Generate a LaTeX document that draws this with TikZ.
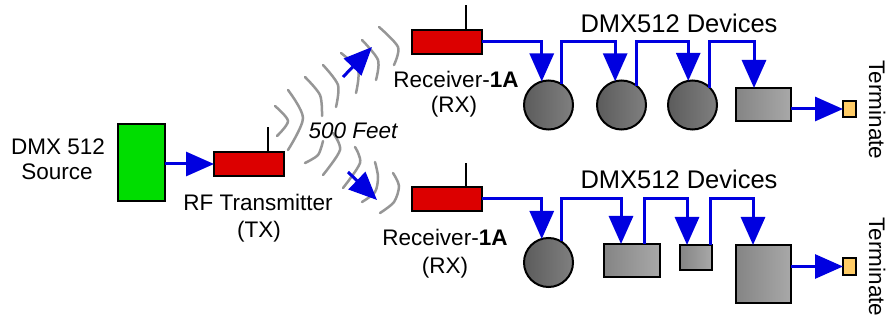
\documentclass[tikz,border=0pt]{standalone}
\usepackage{fontspec}
\setmainfont{Liberation Sans}
\usetikzlibrary{arrows.meta,calc}
\definecolor{flowblue}{RGB}{0,0,224}
\definecolor{txred}{RGB}{220,0,0}
\definecolor{srcgreen}{RGB}{0,221,0}
\definecolor{termorange}{RGB}{255,204,102}
\definecolor{wavegray}{RGB}{150,150,150}
\tikzset{
  box/.style={draw=black, line width=2pt, inner sep=0pt, outer sep=0pt},
  redbox/.style={box, fill=txred, minimum width=70pt, minimum height=24pt},
  devcirc/.style={box, circle, minimum size=49pt, left color=black!64, right color=black!50},
  devrect/.style={box, rectangle, left color=black!48, right color=black!34},
  termbox/.style={box, fill=termorange, minimum width=13pt, minimum height=16pt},
  flow/.style={draw=flowblue, line width=3pt, -{Triangle[length=28pt,width=24pt]}},
  ant/.style={draw=black, line width=2pt},
  wave/.style={draw=wavegray, line width=2.5pt, line cap=round},
  lbl/.style={font=\fontsize{22.5}{25}\selectfont, inner sep=0pt, anchor=base},
  biglbl/.style={font=\fontsize{25.5}{28}\selectfont, inner sep=0pt, anchor=base}
}
\begin{document}
\begin{tikzpicture}[x=1pt,y=-1pt]
\useasboundingbox (0,0) rectangle (888,320);

% radio waves
\draw[wave] plot[smooth] coordinates {(275,106) (288,121) (277,136)};
\draw[wave] plot[smooth] coordinates {(288,90) (303,118) (288,150)};
\draw[wave] plot[smooth] coordinates {(305,77) (320,95) (322,116)};
\draw[wave] plot[smooth] coordinates {(323,141) (318,155) (305,163)};
\draw[wave] plot[smooth] coordinates {(323,65) (338,85) (336,107)};
\draw[wave] plot[smooth] coordinates {(333,133) (340,150) (323,175)};
\draw[wave] plot[smooth] coordinates {(341,53) (358,70) (356,93)};
\draw[wave] plot[smooth] coordinates {(355,147) (360,163) (343,188)};
\draw[wave] plot[smooth] coordinates {(362,40) (378,60) (376,80)};
\draw[wave] plot[smooth] coordinates {(375,162) (378,177) (375,192) (362,202)};
\draw[wave] plot[smooth] coordinates {(379,27) (398,47) (394,65)};
\draw[wave] plot[smooth] coordinates {(393,173) (399,186) (394,202) (380,213)};

% source and transmitter
\node[box, fill=srcgreen, minimum width=47pt, minimum height=77pt] (src) at (141.5,162.5) {};
\node[redbox] (tx) at (249,164) {};
\draw[ant] ($(tx.north east)+(-16,0)$) -- ++(0,-25);

% receivers
\node[redbox] (rx1) at (447,42) {};
\draw[ant] ($(rx1.north east)+(-16,0)$) -- ++(0,-25);
\node[redbox] (rx2) at (447,199) {};
\draw[ant] ($(rx2.north east)+(-16,0)$) -- ++(0,-24);

% top devices
\node[devcirc] (c1) at (548.5,105) {};
\node[devcirc] (c2) at (621.5,105) {};
\node[devcirc] (c3) at (692.5,105) {};
\node[devrect, minimum width=55pt, minimum height=33pt] (r1) at (763.5,104.5) {};
\node[termbox] (t1) at (849.5,109) {};

% bottom devices
\node[devcirc] (c4) at (548.5,262.5) {};
\node[devrect, minimum width=56pt, minimum height=33pt] (R2) at (632,260.5) {};
\node[devrect, minimum width=32pt, minimum height=25pt] (R3) at (696,257.5) {};
\node[devrect, minimum width=55pt, minimum height=58pt] (R4) at (763.5,274) {};
\node[termbox, minimum height=17pt] (t2) at (849.5,266.5) {};

% connectors
\draw[flow] (src.east |- tx.west) -- (tx.west);
\coordinate (wa1) at (343,77);
\coordinate (wa2) at (372,47);
\draw[flow] (wa1) -- (wa2);
\coordinate (wb1) at (348,172);
\coordinate (wb2) at (377,200);
\draw[flow] (wb1) -- (wb2);

\draw[flow] (rx1.east) -| (c1.106);
\draw[flow] (c1.59) -- (c1.59 |- rx1.east) -| (c2.105);
\draw[flow] (c2.52) -- (c2.52 |- rx1.east) -| (c3.100);
\coordinate (r1in) at ([xshift=-9.5pt]r1.north);
\draw[flow] (c3.45) -- (c3.45 |- rx1.east) -| (r1in);
\draw[flow] (r1.east |- t1.west) -- (t1.west);

\draw[flow] (rx2.east) -| (c4.106);
\coordinate (R2in) at ([xshift=-11pt]R2.north);
\coordinate (R2out) at ([xshift=12pt]R2.north);
\coordinate (R3in) at ([xshift=-9pt]R3.north);
\coordinate (R3out) at ([xshift=14pt]R3.north);
\coordinate (R4in) at ([xshift=-10.5pt]R4.north);
\draw[flow] (c4.59) -- (c4.59 |- rx2.east) -| (R2in);
\draw[flow] (R2out) -- (R2out |- rx2.east) -| (R3in);
\draw[flow] (R3out) -- (R3out |- rx2.east) -| (R4in);
\draw[flow] (R4.east |- t2.west) -- (t2.west);

% labels
\node[lbl] (srcL1) at (58,155) {DMX 512};
\node[lbl] (srcL2) at (57,180) {Source};
\node[lbl] (txL1) at (258,211) {RF Transmitter};
\node[lbl] (txL2) at (259,237) {(TX)};
\node[lbl] (rx1L1) at (456,88) {Receiver-\textbf{1A}};
\node[lbl] (rx1L2) at (454,113) {(RX)};
\node[lbl] (rx2L1) at (445,246) {Receiver-\textbf{1A}};
\node[lbl] (rx2L2) at (445,273) {(RX)};
\node[lbl, font=\fontsize{22.5}{25}\selectfont\itshape] (dist) at (353,139) {500 Feet};
\node[biglbl] (devA) at (679,33) {DMX512 Devices};
\node[biglbl] (devB) at (679,189) {DMX512 Devices};
\node[lbl, rotate=-90] (termA) at (869,110) {Terminate};
\node[lbl, rotate=-90] (termB) at (869,267) {Terminate};
\end{tikzpicture}
\end{document}
